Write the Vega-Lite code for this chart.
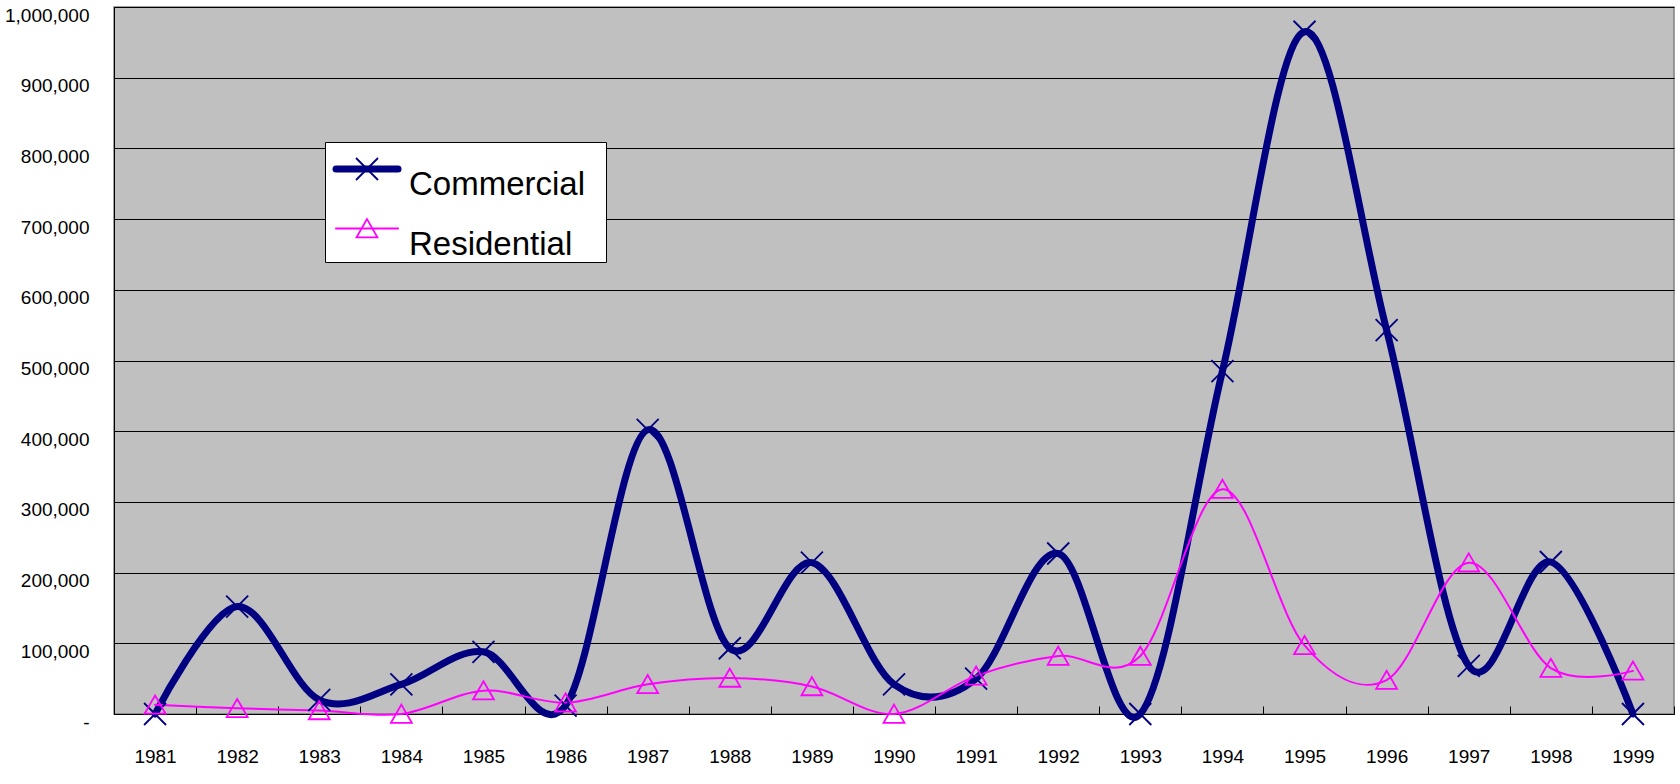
{
  "$schema": "https://vega.github.io/schema/vega-lite/v6.json",
  "width": 1560,
  "height": 707,
  "autosize": {"type": "none"},
  "padding": {"left": 114, "top": 7, "right": 6, "bottom": 70},
  "background": "white",
  "config": {
    "view": {"fill": "#C0C0C0", "stroke": "#808080", "strokeWidth": 1.5},
    "font": "Liberation Sans"
  },
  "data": {"values": [
    {"year": "1981", "series": "Commercial", "value": 0},
    {"year": "1982", "series": "Commercial", "value": 152000},
    {"year": "1983", "series": "Commercial", "value": 20000},
    {"year": "1984", "series": "Commercial", "value": 42000},
    {"year": "1985", "series": "Commercial", "value": 88000},
    {"year": "1986", "series": "Commercial", "value": 12000},
    {"year": "1987", "series": "Commercial", "value": 402000},
    {"year": "1988", "series": "Commercial", "value": 93000},
    {"year": "1989", "series": "Commercial", "value": 214000},
    {"year": "1990", "series": "Commercial", "value": 42000},
    {"year": "1991", "series": "Commercial", "value": 50000},
    {"year": "1992", "series": "Commercial", "value": 227000},
    {"year": "1993", "series": "Commercial", "value": 0},
    {"year": "1994", "series": "Commercial", "value": 485000},
    {"year": "1995", "series": "Commercial", "value": 965000},
    {"year": "1996", "series": "Commercial", "value": 543000},
    {"year": "1997", "series": "Commercial", "value": 68000},
    {"year": "1998", "series": "Commercial", "value": 215000},
    {"year": "1999", "series": "Commercial", "value": 0},
    {"year": "1981", "series": "Residential", "value": 13000},
    {"year": "1982", "series": "Residential", "value": 8000},
    {"year": "1983", "series": "Residential", "value": 5000},
    {"year": "1984", "series": "Residential", "value": 0},
    {"year": "1985", "series": "Residential", "value": 33000},
    {"year": "1986", "series": "Residential", "value": 16000},
    {"year": "1987", "series": "Residential", "value": 42000},
    {"year": "1988", "series": "Residential", "value": 51000},
    {"year": "1989", "series": "Residential", "value": 39000},
    {"year": "1990", "series": "Residential", "value": 0},
    {"year": "1991", "series": "Residential", "value": 54000},
    {"year": "1992", "series": "Residential", "value": 82000},
    {"year": "1993", "series": "Residential", "value": 82000},
    {"year": "1994", "series": "Residential", "value": 318000},
    {"year": "1995", "series": "Residential", "value": 97000},
    {"year": "1996", "series": "Residential", "value": 48000},
    {"year": "1997", "series": "Residential", "value": 214000},
    {"year": "1998", "series": "Residential", "value": 65000},
    {"year": "1999", "series": "Residential", "value": 61000}
  ]},
  "encoding": {
    "x": {
      "field": "year", "type": "ordinal", "bandPosition": 0.5,
      "scale": {"type": "band", "paddingInner": 0, "paddingOuter": 0},
      "axis": {
        "title": null, "labelAngle": 0, "tickBand": "extent", "tickSize": -8,
        "tickColor": "black", "domainColor": "black", "labelFont": "Liberation Sans",
        "labelFontSize": 19, "labelColor": "black", "labelBaseline": "top", "labelPadding": 41, "grid": false
      }
    },
    "y": {
      "field": "value", "type": "quantitative",
      "scale": {"domain": [0, 1000000], "nice": false},
      "axis": {
        "title": null,
        "values": [0, 100000, 200000, 300000, 400000, 500000, 600000, 700000, 800000, 900000, 1000000],
        "grid": true, "gridColor": "black", "gridOpacity": 1, "gridWidth": 1,
        "tickSize": -8, "tickColor": "black", "domainColor": "black",
        "labelExpr": "datum.value == 0 ? '-\u00a0\u00a0\u00a0\u00a0' : format(datum.value, ',')",
        "labelFont": "Liberation Sans", "labelFontSize": 19, "labelColor": "black",
        "labelBaseline": "alphabetic", "labelOffset": 14, "labelPadding": 33
      }
    }
  },
  "layer": [
    {
      "mark": {"type": "line", "interpolate": "cardinal", "strokeCap": "round", "strokeJoin": "round"},
      "encoding": {
        "color": {
          "field": "series", "type": "nominal",
          "scale": {"domain": ["Commercial", "Residential"], "range": ["#000080", "#FF00FF"]},
          "legend": {
            "orient": "none", "legendX": 211, "legendY": 135, "direction": "vertical",
            "title": "\u00a0", "titleFontSize": 8, "titlePadding": 2.5,
            "symbolType": "M22.7,0M-0.5,0H5.14", "symbolSize": 484,
            "labelFont": "Liberation Sans", "labelFontSize": 33, "labelColor": "black", "labelLimit": 0,
            "labelOffset": 51, "labelBaseline": "top", "rowPadding": 9.5, "padding": 0,
            "strokeColor": "black", "fillColor": "white",
            "encode": {"symbols": {"update": {
              "strokeWidth": {"signal": "datum.value === 'Commercial' ? 7 : 2"},
              "strokeCap": {"value": "round"}
            }}}
          }
        },
        "strokeWidth": {
          "field": "series", "type": "ordinal",
          "scale": {"domain": ["Commercial", "Residential"], "range": [7, 2]},
          "legend": null
        }
      }
    },
    {
      "mark": {"type": "point", "filled": false, "size": 484, "strokeWidth": 1.8, "opacity": 1},
      "encoding": {
        "color": {
          "field": "series", "type": "nominal",
          "legend": {
            "orient": "none", "legendX": 236.5, "legendY": 135, "direction": "vertical",
            "title": "\u00a0", "titleFontSize": 8, "titlePadding": 2.5,
            "symbolSize": 484, "symbolStrokeWidth": 1.8, "symbolFillColor": "transparent",
            "labelFont": "Liberation Sans", "labelFontSize": 33, "labelColor": "transparent", "labelLimit": 0,
            "labelExpr": "'\u00a0'",
            "labelOffset": 51, "labelBaseline": "top", "rowPadding": 9.5, "padding": 0
          }
        },
        "shape": {
          "field": "series", "type": "nominal",
          "scale": {"domain": ["Commercial", "Residential"], "range": ["M-1,-1L1,1M-1,1L1,-1", "M0,-0.85L0.95,0.8L-0.95,0.8Z"]},
          "legend": {
            "orient": "none", "legendX": 236.5, "legendY": 135, "direction": "vertical",
            "title": "\u00a0", "titleFontSize": 8, "titlePadding": 2.5,
            "symbolSize": 484, "symbolStrokeWidth": 1.8, "symbolFillColor": "transparent",
            "labelFont": "Liberation Sans", "labelFontSize": 33, "labelColor": "transparent", "labelLimit": 0,
            "labelExpr": "'\u00a0'",
            "labelOffset": 51, "labelBaseline": "top", "rowPadding": 9.5, "padding": 0
          }
        }
      }
    }
  ],
  "resolve": {"legend": {"color": "independent", "shape": "independent"}}
}
